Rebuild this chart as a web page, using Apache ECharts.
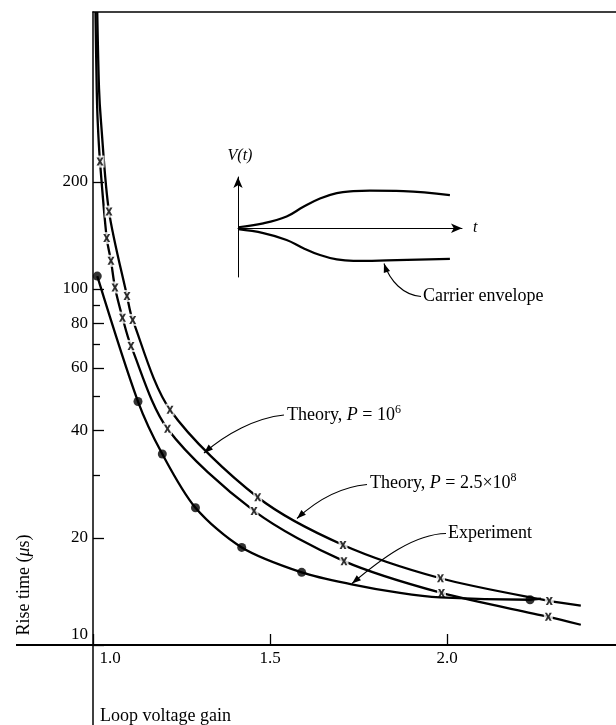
<!DOCTYPE html>
<html>
<head>
<meta charset="utf-8">
<script src="https://cdn.jsdelivr.net/npm/echarts@6/dist/echarts.min.js"></script>
<style>
  html, body { margin: 0; padding: 0; background: #fff; }
  #chart { width: 616px; height: 725px; }
</style>
</head>
<body>
<div id="chart"></div>
<script>
// Rise time (µs, log scale) against loop voltage gain.
// Smooth theory curves and the experimental curve, plus their plotted points.
const theoryP6Curve = [[1.012, 600], [1.017, 366], [1.0226, 295], [1.0452, 165], [1.096, 95.6], [1.1121, 81.9],
  [1.2175, 45.8], [1.4653, 26.0], [1.7062, 19.1], [1.9816, 15.4], [2.289, 13.3], [2.378, 12.9]];
const theoryP6Points = [[1.0452, 165], [1.096, 95.6], [1.1121, 81.9], [1.2175, 45.8], [1.4653, 26.0],
  [1.7062, 19.1], [1.9816, 15.4], [2.289, 13.3]];

const theoryP8Curve = [[1.007, 600], [1.0105, 366], [1.0133, 295], [1.0198, 228], [1.0387, 139], [1.0508, 120],
  [1.0621, 101], [1.0833, 83.1], [1.1073, 69.2], [1.2105, 40.5], [1.4548, 23.8], [1.709, 17.2], [1.9845, 14.0],
  [2.2862, 12.0], [2.378, 11.4]];
const theoryP8Points = [[1.0198, 228], [1.0387, 139], [1.0508, 120], [1.0621, 101], [1.0833, 83.1], [1.1073, 69.2],
  [1.2105, 40.5], [1.4548, 23.8], [1.709, 17.2], [1.9845, 14.0], [2.2862, 12.0]];

const experimentCurve = [[1.0121, 108.7], [1.1271, 48.3], [1.1958, 34.4], [1.2895, 24.3], [1.4201, 18.8],
  [1.5895, 16.0], [1.7308, 14.8], [1.8672, 14.0], [1.98, 13.6], [2.2345, 13.4], [2.2655, 13.5]];
const experimentPoints = [[1.0121, 108.7], [1.1271, 48.3], [1.1958, 34.4], [1.2895, 24.3], [1.4201, 18.8],
  [1.5895, 16.0], [2.2345, 13.4]];

// Axis ticks
const xTicks = [1.0, 1.5, 2.0];
const yMajorTicks = [10, 20, 40, 60, 80, 100, 200];
const yMinorTicks = [30, 50, 70, 90];

// Inset sketch: carrier envelope V(t) against t
const envelopeUpper = [[0.01, 0.02], [1.13, 0.10], [2.17, 0.24], [2.92, 0.44], [3.66, 0.61], [4.41, 0.72],
  [5.15, 0.76], [5.89, 0.77], [7.38, 0.76], [9.46, 0.68]];
const envelopeLower = [[0.01, -0.02], [1.13, -0.10], [2.17, -0.24], [2.92, -0.41], [3.66, -0.55], [4.41, -0.64],
  [5.15, -0.67], [6.64, -0.66], [9.46, -0.63]];

const SERIF = '"Liberation Serif", "DejaVu Serif", serif';
const INK = '#000';

const chart = echarts.init(document.getElementById('chart'), null, { renderer: 'canvas' });

// bold "x" glyph used for the theory points
const CROSS = 'path://M0,0 L3.2,0 L5,3 L6.8,0 L10,0 L6.7,5 L10,10 L6.8,10 L5,7 L3.2,10 L0,10 L3.3,5 Z';

function arrowHead(tip, from, len, half) {
  const dx = tip[0] - from[0], dy = tip[1] - from[1];
  const d = Math.hypot(dx, dy);
  const ux = dx / d, uy = dy / d;
  const bx = tip[0] - ux * len, by = tip[1] - uy * len;
  return {
    type: 'polygon', z: 50, silent: true,
    shape: { points: [tip, [bx - uy * half, by + ux * half], [bx + uy * half, by - ux * half]] },
    style: { fill: INK }
  };
}

function leader(p0, c1, c2, p1) {
  return [
    {
      type: 'bezierCurve', z: 50, silent: true,
      shape: { x1: p0[0], y1: p0[1], cpx1: c1[0], cpy1: c1[1], cpx2: c2[0], cpy2: c2[1], x2: p1[0], y2: p1[1] },
      style: { stroke: INK, lineWidth: 1.1, fill: null }
    },
    arrowHead(p1, c2, 9, 3.3)
  ];
}

function label(text, x, y, opts) {
  return Object.assign({
    type: 'text', x: x, y: y, z: 50, silent: true,
    style: Object.assign({
      text: text,
      fontFamily: SERIF, fontSize: 18, fill: INK,
      align: 'left', verticalAlign: 'middle',
      rich: {
        i: { fontFamily: SERIF, fontSize: 18, fontStyle: 'italic', fill: INK },
        sup: { fontFamily: SERIF, fontSize: 12, fill: INK, padding: [0, 0, 11, 0] }
      }
    }, (opts && opts.style) || {})
  }, (opts && opts.el) || {});
}

const graphics = [
  // axis lines carried past the origin
  { type: 'line', silent: true, z: 40, shape: { x1: 16, y1: 645, x2: 93, y2: 645 }, style: { stroke: INK, lineWidth: 2 } },
  { type: 'line', silent: true, z: 40, shape: { x1: 93, y1: 645, x2: 93, y2: 725 }, style: { stroke: INK, lineWidth: 1.5 } },

  label('Rise time ({i|μ}s)', 24, 585, { el: { rotation: Math.PI / 2 }, style: { align: 'center' } }),
  label('Loop voltage gain', 100, 716),

  label('V(t)', 240, 156, { style: { fontStyle: 'italic', align: 'center', fontSize: 16 } }),
  label('t', 473, 228, { style: { fontStyle: 'italic', fontSize: 16 } }),

  label('Carrier envelope', 423, 296.5),
  label('Theory, {i|P} = 10{sup|6}', 287, 415),
  label('Theory, {i|P} = 2.5×10{sup|8}', 370, 483.5),
  label('Experiment', 448, 533.5)
]
  .concat(leader([421, 296.5], [403, 295], [390, 281], [384, 263.5]))
  .concat(leader([284, 415], [255, 418], [226, 434], [204, 453]))
  .concat(leader([367, 484.5], [340, 487], [316, 501], [297, 518.5]))
  .concat(leader([446, 533.5], [414, 534], [381, 559], [352, 583.5]));

const tickLabelStyle = { fontFamily: SERIF, fontSize: 17, color: INK };

const option = {
  animation: false,
  backgroundColor: '#fff',
  grid: [
    { left: 93, right: 0, top: 12, bottom: 80 },
    { left: 238, top: 177, width: 224, height: 100 }
  ],
  xAxis: [
    {
      gridIndex: 0, type: 'value', min: 1, max: 2.4774,
      axisLine: { show: true, onZero: false, lineStyle: { color: INK, width: 2 } },
      axisTick: { show: true, inside: true, length: 11, customValues: xTicks, lineStyle: { color: INK, width: 1.3 } },
      axisLabel: {
        show: true, customValues: xTicks, margin: 5, ...tickLabelStyle,
        formatter: v => (Math.abs(v - 1) < 1e-9 ? '{first|1.0}' : v.toFixed(1)),
        rich: { first: { ...tickLabelStyle, padding: [0, 0, 0, 34] } }
      },
      splitLine: { show: false }
    },
    {
      gridIndex: 0, type: 'value', position: 'top', min: 1, max: 2.4774,
      axisLine: { show: true, onZero: false, lineStyle: { color: INK, width: 1.5 } },
      axisTick: { show: false }, axisLabel: { show: false }, splitLine: { show: false }
    },
    {
      gridIndex: 1, type: 'value', min: 0, max: 10,
      axisLine: { show: true, onZero: true, symbol: ['none', 'arrow'], symbolSize: [7, 11], lineStyle: { color: INK, width: 1 } },
      axisTick: { show: false }, axisLabel: { show: false }, splitLine: { show: false }
    }
  ],
  yAxis: [
    {
      gridIndex: 0, type: 'log', logBase: 10, min: 10, max: 600,
      axisLine: { show: true, onZero: false, lineStyle: { color: INK, width: 1.5 } },
      axisTick: { show: true, inside: true, length: 11, customValues: yMajorTicks, lineStyle: { color: INK, width: 1.3 } },
      axisLabel: {
        show: true, customValues: yMajorTicks, margin: 5, ...tickLabelStyle,
        formatter: v => (Math.round(v) === 10 ? '{low|10}' : String(Math.round(v))),
        rich: { low: { ...tickLabelStyle, padding: [0, 0, 20, 0] } }
      },
      splitLine: { show: false }, minorTick: { show: false }
    },
    {
      gridIndex: 0, type: 'log', logBase: 10, min: 10, max: 600, position: 'left',
      axisLine: { show: false },
      axisTick: { show: true, inside: true, length: 7, customValues: yMinorTicks, lineStyle: { color: INK, width: 1.3 } },
      axisLabel: { show: false }, splitLine: { show: false }
    },
    {
      gridIndex: 1, type: 'value', min: -1, max: 1.05,
      axisLine: { show: true, onZero: true, symbol: ['none', 'arrow'], symbolSize: [7, 11], lineStyle: { color: INK, width: 1 } },
      axisTick: { show: false }, axisLabel: { show: false }, splitLine: { show: false }
    }
  ],
  series: [
    {
      name: 'Theory, P = 10^6', type: 'line', xAxisIndex: 0, yAxisIndex: 0, data: theoryP6Curve,
      showSymbol: false, smooth: 0.3, silent: true, z: 2,
      lineStyle: { color: INK, width: 2.3 }
    },
    {
      name: 'Theory, P = 2.5x10^8', type: 'line', xAxisIndex: 0, yAxisIndex: 0, data: theoryP8Curve,
      showSymbol: false, smooth: 0.3, silent: true, z: 2,
      lineStyle: { color: INK, width: 2.3 }
    },
    {
      // breaks in the theory curves around each plotted point
      type: 'scatter', xAxisIndex: 0, yAxisIndex: 0, data: theoryP6Points.concat(theoryP8Points),
      symbol: 'rect', symbolSize: [9, 12], silent: true, z: 3,
      itemStyle: { color: '#fff' }
    },
    {
      name: 'Experiment', type: 'line', xAxisIndex: 0, yAxisIndex: 0, data: experimentCurve,
      showSymbol: false, smooth: 0.3, silent: true, z: 4,
      lineStyle: { color: INK, width: 2.3 }
    },
    {
      type: 'scatter', xAxisIndex: 0, yAxisIndex: 0, data: experimentPoints,
      symbol: 'circle', symbolSize: 9, silent: true, z: 5,
      itemStyle: { color: INK }
    },
    {
      type: 'scatter', xAxisIndex: 0, yAxisIndex: 0, data: theoryP6Points,
      symbol: CROSS, symbolSize: [7, 8], silent: true, z: 6,
      itemStyle: { color: INK }
    },
    {
      type: 'scatter', xAxisIndex: 0, yAxisIndex: 0, data: theoryP8Points,
      symbol: CROSS, symbolSize: [7, 8], silent: true, z: 6,
      itemStyle: { color: INK }
    },
    {
      name: 'Upper envelope', type: 'line', xAxisIndex: 2, yAxisIndex: 2, data: envelopeUpper,
      showSymbol: false, smooth: 0.4, silent: true, z: 4,
      lineStyle: { color: INK, width: 2.2 }
    },
    {
      name: 'Lower envelope', type: 'line', xAxisIndex: 2, yAxisIndex: 2, data: envelopeLower,
      showSymbol: false, smooth: 0.4, silent: true, z: 4,
      lineStyle: { color: INK, width: 2.2 }
    }
  ],
  graphic: graphics
};

chart.setOption(option);
</script>
</body>
</html>
